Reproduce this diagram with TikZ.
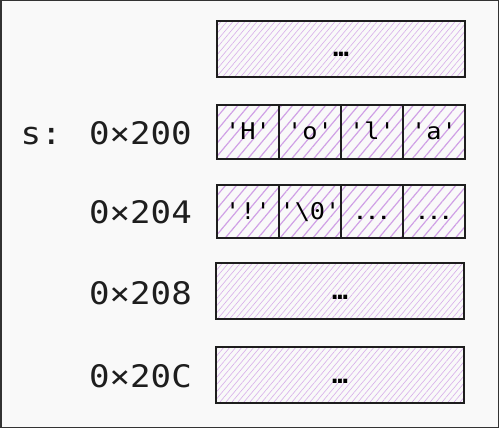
\documentclass[tikz,border=0pt]{standalone}
\usepackage{fontspec}
\usetikzlibrary{patterns.meta}
\newfontfamily\memfont{DejaVu Sans Mono}[FakeStretch=1.1]
\definecolor{hatch}{RGB}{208,160,230}
\definecolor{paper}{RGB}{249,249,249}
\definecolor{ink}{RGB}{30,30,30}
\definecolor{framegray}{RGB}{51,51,51}
\begin{document}
\begin{tikzpicture}[x=1pt,y=-1pt,
  cell/.style={draw=ink, line width=2.4pt, inner sep=0pt, minimum width=62pt, minimum height=54pt,
    pattern={Lines[angle=50,distance=8.4pt,line width=1.2pt]}, pattern color=hatch,
    font=\memfont\fontsize{23}{26}\selectfont, text height=16pt, text depth=0pt},
  dots/.style={font=\memfont\bfseries\fontsize{18}{22}\selectfont},
  block/.style={draw=ink, line width=2pt, inner sep=0pt, minimum width=248pt, minimum height=56pt,
    pattern={Lines[angle=50,distance=4.6pt,line width=0.6pt]}, pattern color=hatch!85,
    font=\memfont\bfseries\fontsize{24}{28}\selectfont, text height=16pt, text depth=0pt},
  addr/.style={anchor=base east, inner sep=0pt, text=ink, font=\memfont\fontsize{31}{36}\selectfont}]
\draw[framegray, line width=1.5pt, fill=paper] (0.75,0.75) rectangle (498.25,427.25);
\node[block] (top) at (341,49) {…};
\node[cell] (ch) at (248,132) {'H'};
\node[cell] (co) at (310,132) {'o'};
\node[cell] (cl) at (372,132) {'l'};
\node[cell] (ca) at (434,132) {'a'};
\node[cell, minimum height=53pt] (cx) at (248,211.5) {'!'};
\node[cell, minimum height=53pt] (cz) at (310,211.5) {'\textbackslash 0'};
\node[cell, minimum height=53pt, dots] (cu) at (372,211.5) {...};
\node[cell, minimum height=53pt, dots] (cv) at (434,211.5) {...};
\node[block] (mid) at (340,291) {…};
\node[block] (low) at (340,375) {…};
\node[addr] (s) at (192,145) {s: 0×200};
\node[addr] (a204) at (192,223) {0×204};
\node[addr] (a208) at (192,305) {0×208};
\node[addr] (a20c) at (192,387) {0×20C};
\end{tikzpicture}
\end{document}
